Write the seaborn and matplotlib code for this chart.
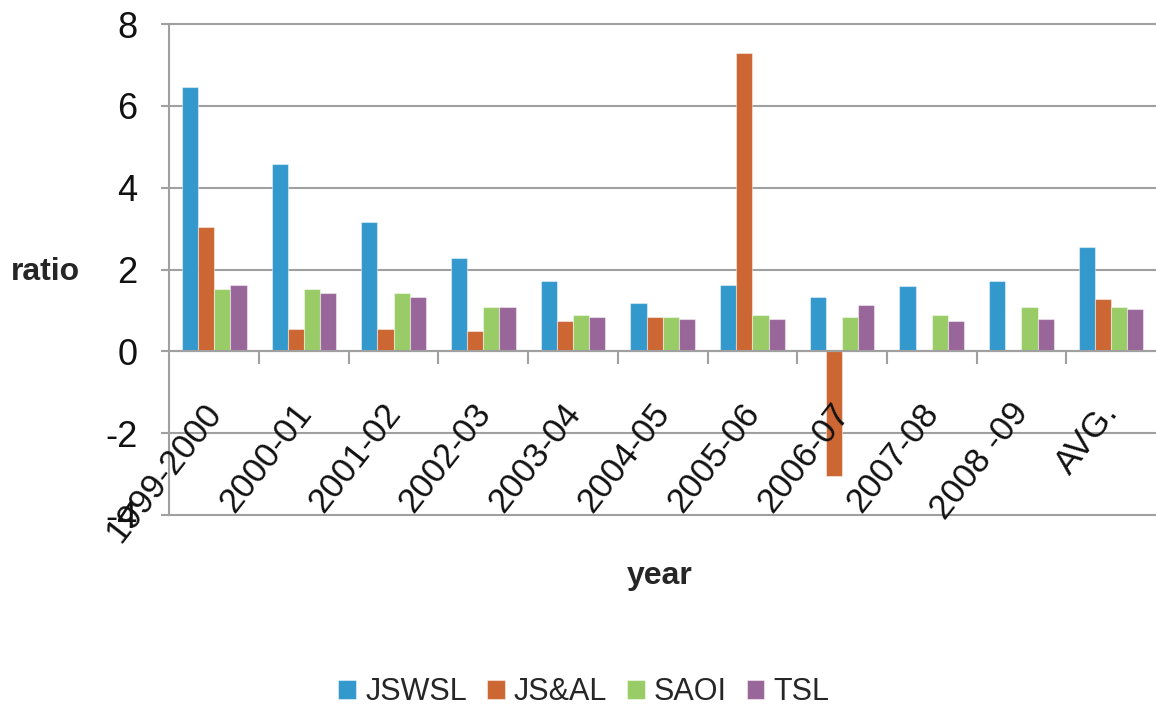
import numpy as np
import pandas as pd
import matplotlib
matplotlib.use("Agg")
import matplotlib.pyplot as plt
from matplotlib.transforms import ScaledTranslation
import seaborn as sns

# data
years = ["1999-2000", "2000-01", "2001-02", "2002-03", "2003-04", "2004-05",
         "2005-06", "2006-07", "2007-08", "2008 -09", "AVG."]
jswsl = [6.45, 4.58, 3.16, 2.27, 1.73, 1.19, 1.63, 1.34, 1.59, 1.73, 2.56]
jsal = [3.05, 0.55, 0.55, 0.50, 0.75, 0.85, 7.29, -3.04, np.nan, np.nan, 1.29]
saoi = [1.53, 1.53, 1.43, 1.09, 0.90, 0.85, 0.90, 0.85, 0.90, 1.09, 1.09]
tsl = [1.63, 1.43, 1.34, 1.09, 0.85, 0.80, 0.80, 1.14, 0.75, 0.79, 1.04]
companies = ["JSWSL", "JS&AL", "SAOI", "TSL"]
colors = ["#3399cc", "#cc6633", "#99cc66", "#996699"]
yticks = [-4, -2, 0, 2, 4, 6, 8]

df = pd.DataFrame({"year": years, "JSWSL": jswsl, "JS&AL": jsal,
                   "SAOI": saoi, "TSL": tsl})
long = df.melt(id_vars="year", var_name="company", value_name="ratio")

sns.set_style("white")
plt.rcParams["font.family"] = ["Liberation Sans", "DejaVu Sans"]
plt.rcParams["axes.unicode_minus"] = False

grid_c = "#a0a0a0"
fig = plt.figure(figsize=(11.56, 7.11), dpi=100)
ax = fig.add_axes([169.4 / 1156, 1 - 515 / 711, 1 - 169.4 / 1156, (515 - 24) / 711])

sns.barplot(data=long, x="year", y="ratio", hue="company", order=years,
            hue_order=companies, palette=colors, width=0.72, saturation=1,
            edgecolor=(1, 1, 1, 0.45), linewidth=0.8, ax=ax, legend=True)

ax.set_ylim(-4, 8)
ax.set_xlim(-0.5, len(years) - 0.5)
ax.set_yticks(yticks, labels=[str(v) for v in yticks])
ax.yaxis.grid(True, color=grid_c, linewidth=1.5)
ax.set_axisbelow(True)
# year labels sit on top of the bars, grid stays behind
ax.xaxis.set_zorder(3)
for gl in ax.get_ygridlines():
    gl.set_clip_on(False)

for s in ["top", "right"]:
    ax.spines[s].set_visible(False)
ax.spines["bottom"].set_position(("data", 0))
ax.spines["bottom"].set_color(grid_c)
ax.spines["bottom"].set_linewidth(1.5)
ax.spines["left"].set_color(grid_c)
ax.spines["left"].set_linewidth(1.5)

ax.tick_params(axis="y", which="major", left=True, length=6, width=1.5,
               color=grid_c, labelsize=26, pad=17, labelcolor="#111111")

# tick marks on category boundaries, labels at category centres
ax.set_xticks(np.arange(0.5, len(years) - 1, 1), labels=[""] * (len(years) - 1))
ax.set_xticks(range(len(years)), labels=years, minor=True)
ax.tick_params(axis="x", which="major", bottom=True, length=9.5, width=1.5,
               color=grid_c, direction="out")
ax.tick_params(axis="x", which="minor", bottom=True, length=0, pad=33,
               labelsize=25, labelcolor="#111111")
shift = ScaledTranslation(-12 / 100, 0, fig.dpi_scale_trans)
for lab in ax.get_xticklabels(minor=True):
    lab.set_rotation(52)
    lab.set_ha("right")
    lab.set_va("top")
    lab.set_rotation_mode("anchor")
    lab.set_transform(lab.get_transform() + shift)

ax.set_ylabel("ratio", rotation=0, fontsize=23, fontweight="bold", ha="center", va="center")
ax.yaxis.set_label_coords((45 - 169.4) / 986.6, (515 - 272) / 491)
ax.set_xlabel("year", fontsize=23, fontweight="bold", ha="center", va="center")
ax.xaxis.set_label_coords((660 - 169.4) / 986.6, (515 - 576) / 491)

handles, labels = ax.get_legend_handles_labels()
ax.get_legend().remove()
fig.legend(handles, labels, loc="center", bbox_to_anchor=(584 / 1156, 1 - 692 / 711),
           ncol=4, frameon=False, fontsize=22, handlelength=0.58, handleheight=0.58,
           handletextpad=0.3, columnspacing=0.65)

fig.savefig("out.png", dpi=100)
